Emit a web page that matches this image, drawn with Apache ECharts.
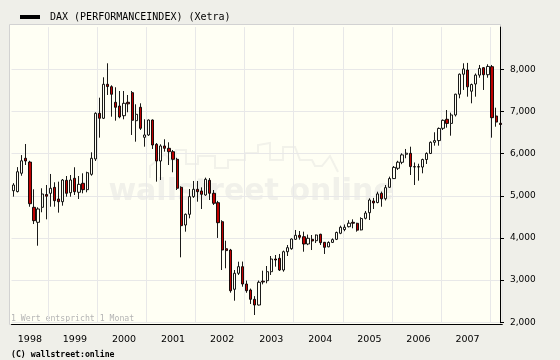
<!DOCTYPE html>
<html>
<head>
<meta charset="utf-8">
<script src="https://cdn.jsdelivr.net/npm/echarts@6/dist/echarts.min.js"></script>
<style>
  html, body { margin: 0; padding: 0; background: #efefe9; }
  #chart { width: 560px; height: 360px; }
</style>
</head>
<body>
<div id="chart"></div>
<script>
// ---- DATA (monthly candles, Apr 1998 - Mar 2008) ----
const seriesName = 'DAX (PERFORMANCEINDEX) (Xetra)';
const months = [];
(function () {
  for (let y = 1998; y <= 2008; y++) {
    for (let m = 1; m <= 12; m++) {
      if (y === 1998 && m < 4) continue;
      if (y === 2008 && m > 3) continue;
      months.push(y + '-' + (m < 10 ? '0' + m : m));
    }
  }
})();

const opens = [
  5120, 5100, 5535, 5890, 5800, 4727, 4371, 4727, 5030,
  5059, 5200, 4924, 4860, 5367, 5073, 5415, 5083, 5296, 5145, 5509, 5873,
  6956, 6838, 7644, 7587, 7217, 7129, 6899, 7217, 7446, 6781, 7099, 6387,
  6442, 6797, 6221, 5825, 6181, 6126, 6046, 5865, 5201, 4307, 4561, 4980,
  5154, 5114, 5019, 5367, 5059, 4837, 4386, 3745, 3714, 2783, 3162, 3319,
  2908, 2766, 2545, 2410, 2975, 2987, 3200, 3501, 3518, 3240, 3674, 3745,
  3968, 4063, 4030, 3857, 3968, 3935, 4087, 3897, 3790, 3895, 3968, 4111,
  4200, 4267, 4371, 4348, 4190, 4466, 4599, 4876, 4840, 5059, 4930, 5201,
  5408, 5652, 5794, 5984, 6007, 5690, 5690, 5682, 5860, 6004, 6268, 6309,
  6600, 6814, 6716, 6917, 7409, 7883, 7983, 7480, 7651, 7862, 8038, 7871,
  8062, 6892, 6719
];
const highs = [
  5300, 5680, 5965, 6228, 5830, 5154, 4727, 5178, 5256,
  5517, 5320, 5335, 5398, 5469, 5493, 5676, 5469, 5533, 5571, 6031, 6980,
  7326, 7810, 8142, 7620, 7573, 7485, 7485, 7390, 7485, 7170, 7193, 6814,
  6810, 6810, 6250, 6221, 6340, 6268, 6086, 5900, 5225, 4580, 5161, 5351,
  5351, 5200, 5430, 5420, 5137, 4880, 4420, 3935, 3740, 3240, 3437, 3440,
  2990, 2800, 2620, 2990, 3224, 3335, 3572, 3596, 3620, 3700, 3833, 3990,
  4189, 4165, 4149, 4080, 4070, 4080, 4100, 3905, 3920, 3990, 4150, 4291,
  4320, 4420, 4442, 4360, 4490, 4640, 4940, 4950, 5097, 5100, 5256, 5454,
  5706, 5830, 6007, 6110, 6164, 5790, 5760, 5880, 6030, 6290, 6506, 6620,
  6810, 7034, 6971, 7420, 7900, 8142, 8151, 7660, 7900, 8102, 8050, 8118,
  8102, 7089, 6730
];
const lows = [
  4980, 5080, 5475, 5730, 4740, 4330, 3816, 4609, 4442,
  4741, 4741, 4600, 4765, 4978, 4978, 5019, 4924, 5059, 5083, 5476, 5825,
  6378, 6820, 7390, 6876, 6781, 6838, 6814, 6980, 6442, 6283, 6560, 6164,
  6420, 6110, 5335, 5374, 6046, 5730, 5557, 5137, 3541, 4149, 4466, 4950,
  4860, 4687, 5000, 4900, 4782, 4000, 3240, 3281, 2702, 2512, 3122, 2844,
  2700, 2434, 2173, 2400, 2900, 2925, 3122, 3319, 3217, 3200, 3572, 3720,
  3952, 3960, 3674, 3830, 3714, 3880, 3833, 3620, 3780, 3880, 3950, 4090,
  4160, 4250, 4229, 4149, 4180, 4440, 4426, 4687, 4822, 4741, 4890, 5190,
  5400, 5612, 5750, 5890, 5493, 5256, 5358, 5533, 5754, 5990, 6188, 6188,
  6560, 6615, 6425, 6880, 7312, 7509, 7350, 7193, 7350, 7800, 7509, 7800,
  6378, 6638, 6670
];
const closes = [
  5255, 5570, 5830, 5825, 4812, 4410, 4687, 5042, 4990,
  5178, 4884, 4860, 5374, 5059, 5374, 5097, 5272, 5145, 5548, 5889, 6956,
  6838, 7644, 7590, 7407, 7099, 6870, 7193, 7180, 6790, 6932, 6600, 6442,
  6797, 6204, 5825, 6181, 6126, 6046, 5865, 5178, 4291, 4561, 4980, 5154,
  5097, 5035, 5391, 5059, 4822, 4362, 3714, 3700, 2749, 3162, 3319, 2908,
  2749, 2545, 2410, 2949, 2955, 3200, 3501, 3477, 3240, 3674, 3769, 3975,
  4063, 4016, 3857, 3992, 3928, 4070, 3888, 3778, 3893, 3960, 4130, 4253,
  4254, 4350, 4349, 4185, 4460, 4590, 4900, 4830, 5044, 4929, 5193, 5408,
  5674, 5796, 5970, 6010, 5692, 5683, 5682, 5860, 6004, 6268, 6309, 6597,
  6789, 6716, 6917, 7409, 7883, 8007, 7584, 7638, 7862, 8020, 7871, 8067,
  6852, 6748, 6690
];
const yTicks = [2000, 3000, 4000, 5000, 6000, 7000, 8000];
const noteText = '1 Wert entspricht 1 Monat';
const copyrightText = '(C) wallstreet:online';
const watermarkText = 'wallstreet online';

// ---- CHART ----
const candleData = months.map((m, i) => [opens[i], closes[i], lows[i], highs[i]]);
const isJan = (i) => months[i].slice(5) === '01';
const isLabel = (i) => months[i] === '1998-08' || (months[i].slice(5) === '07' && months[i] > '1998-12');

const chart = echarts.init(document.getElementById('chart'), null, { renderer: 'canvas' });
chart.setOption({
  animation: false,
  backgroundColor: '#efefe9',
  legend: {
    left: 15, top: 7,
    icon: 'rect', itemWidth: 20, itemHeight: 4,
    itemStyle: { color: '#000', borderWidth: 0 },
    textStyle: { fontFamily: 'DejaVu Sans Mono', fontSize: 10, color: '#000', padding: [3, 0, 0, 5] },
    data: [seriesName],
    selectedMode: false
  },
  grid: { left: 11.5, top: 27.1, width: 490.8, height: 295.2, containLabel: false },
  xAxis: {
    type: 'category', data: months, boundaryGap: true, offset: 2,
    axisLine: { lineStyle: { color: '#000', width: 1 } },
    axisTick: { interval: (i) => isJan(i), length: 4, lineStyle: { color: '#000' } },
    axisLabel: {
      interval: (i) => isLabel(i),
      formatter: (v) => v.slice(0, 4),
      fontFamily: 'DejaVu Sans', fontSize: 9.5, color: '#000', margin: 10
    },
    splitLine: { show: true, interval: (i) => isJan(i), lineStyle: { color: '#e8e8e8', width: 1 } }
  },
  yAxis: {
    type: 'value', position: 'right', min: 2000, max: 9000, interval: 1000, offset: -2.3,
    axisLine: { show: true, lineStyle: { color: '#000', width: 1 } },
    axisTick: { show: true, length: 4, lineStyle: { color: '#000' }, customValues: yTicks },
    axisLabel: { customValues: yTicks, fontFamily: 'DejaVu Sans', fontSize: 9, color: '#000', margin: 10 },
    splitLine: { show: true, lineStyle: { color: '#e8e8e8', width: 1 } }
  },
  graphic: [
    { type: 'rect', z: -100, silent: true,
      shape: { x: 9.5, y: 24.5, width: 491, height: 300 },
      style: { fill: '#fffff4', stroke: '#d2d2d2', lineWidth: 1 } },
    { type: 'polyline', z: -50, silent: true,
      shape: { points: [[150,178],[150,166],[158,160],[165,154],[170,160],[176,160],[176,150],[186,150],[186,164],[198,164],[198,156],[215,156],[215,168],[228,168],[228,160],[245,160],[245,153],[258,153],[258,145],[270,143],[270,160],[283,160],[283,147],[295,147],[300,160],[312,160],[315,166],[322,166],[330,156],[338,172]] },
      style: { fill: 'none', stroke: '#f2f2ea', lineWidth: 2 } },
    { type: 'text', z: -50, silent: true,
      style: { text: watermarkText, x: 251, y: 192, align: 'center', verticalAlign: 'middle',
               fontFamily: 'DejaVu Sans', fontWeight: 'bold', fontSize: 30, fill: '#f1f1ea' } },
    { type: 'text', silent: true,
      style: { text: noteText, x: 11, y: 318.5, verticalAlign: 'middle',
               fontFamily: 'DejaVu Sans Mono', fontSize: 8.2, fill: '#b4b4b4' } },
    { type: 'text', silent: true,
      style: { text: copyrightText, x: 11, y: 354.5, verticalAlign: 'middle',
               fontFamily: 'DejaVu Sans Mono', fontWeight: 'bold', fontSize: 8.2, fill: '#000' } }
  ],
  series: [{
    name: seriesName,
    type: 'candlestick',
    data: candleData,
    barWidth: 2.7,
    itemStyle: {
      color: '#fffff4', color0: '#c00000',
      borderColor: '#000', borderColor0: '#000', borderColorDoji: '#000', borderWidth: 0.9
    }
  }]
});
</script>
</body>
</html>
